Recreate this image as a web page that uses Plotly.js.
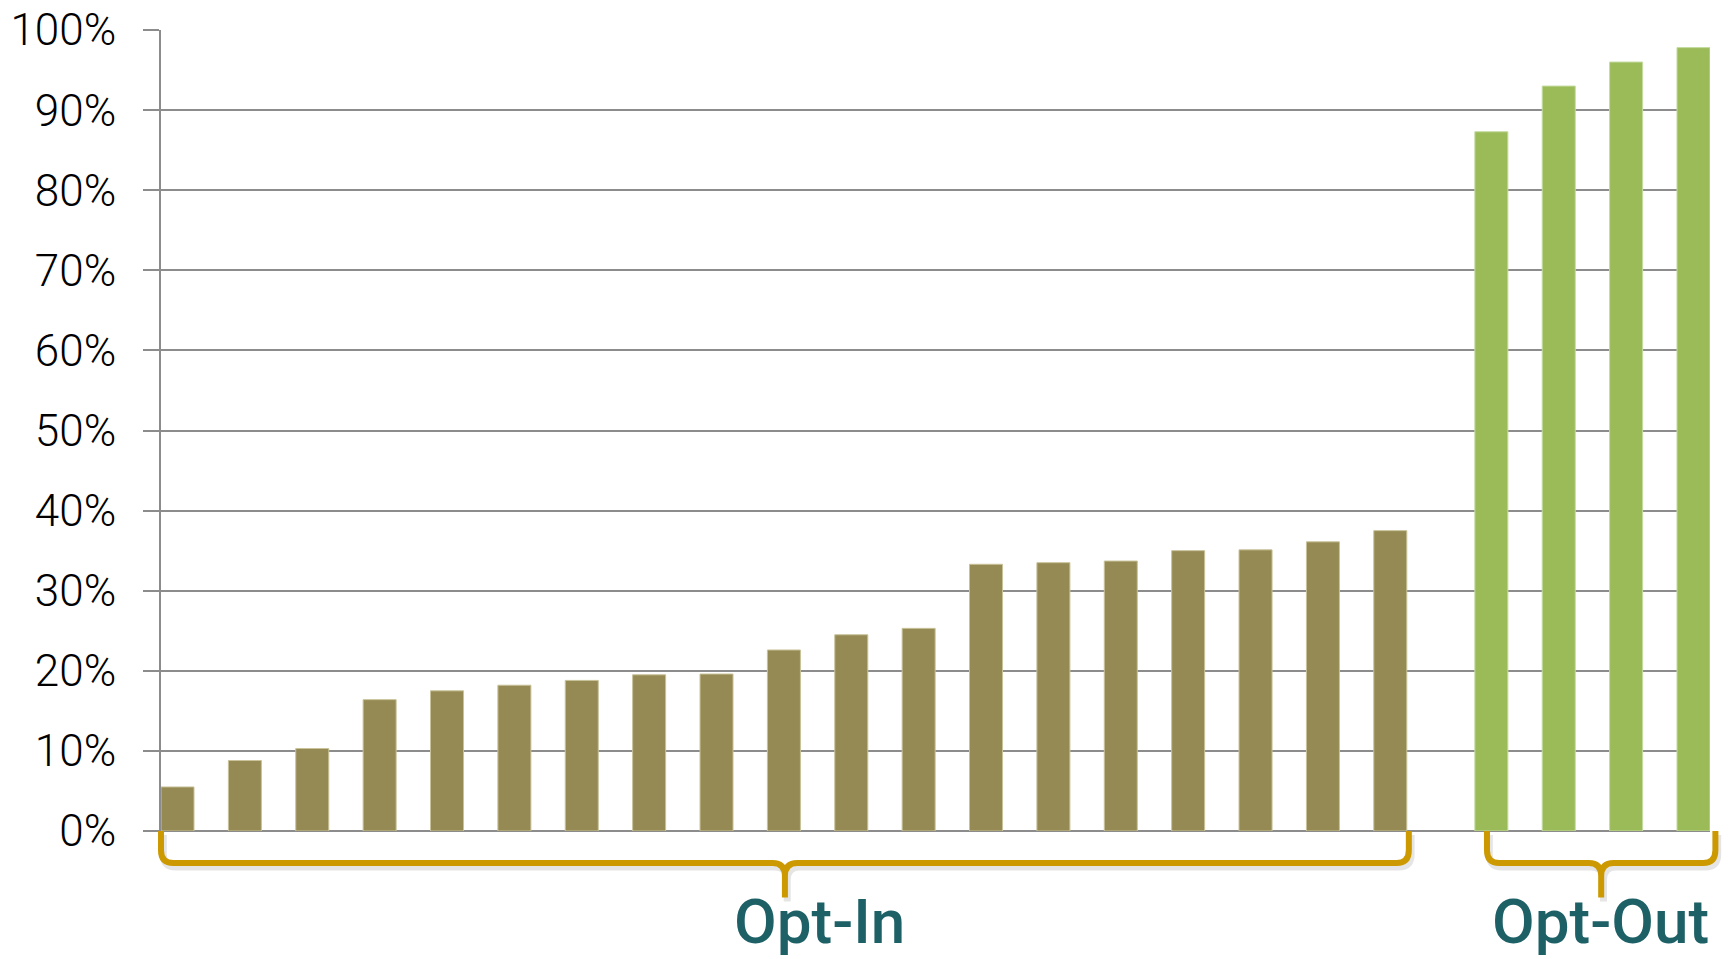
<!DOCTYPE html>
<html>
<head>
<meta charset="utf-8">
<script src="https://cdn.plot.ly/plotly-3.0.1.min.js"></script>
<style>
  html, body { margin: 0; padding: 0; background: #ffffff; }
  #chart { width: 1729px; height: 959px; }
</style>
</head>
<body>
<div id="chart"></div>
<script>
// Participation rates (%) by country group
const optInRates = [5.5, 8.8, 10.3, 16.4, 17.5, 18.2, 18.8, 19.5, 19.6, 22.6,
                    24.5, 25.3, 33.3, 33.5, 33.7, 35.0, 35.1, 36.1, 37.5];
const optOutRates = [87.3, 93.0, 96.0, 97.8];
const groupLabels = ['Opt-In', 'Opt-Out'];
const yTickValues = [0, 10, 20, 30, 40, 50, 60, 70, 80, 90, 100];
const yTickLabels = yTickValues.map(v => v + '%');

const OLIVE = '#958A53';
const GREEN = '#9BBB59';
const BRACE = '#CC9900';
const LABEL = '#1D6066';
const GRID = '#8C8C8C';

const barWidth = 0.49;
const groupGap = 0.5;

// Bar positions: one slot per bar, with a half-slot gap between the two groups
const optInX = optInRates.map((_, i) => i);
const optOutX = optOutRates.map((_, i) => optInRates.length + groupGap + i);

const xMin = optInX[0] - barWidth / 2;
const xMax = optOutX[optOutX.length - 1] + barWidth / 2;
// data x -> paper x, so the braces may reach past the plot edge without clipping
const toPaper = x => (x - xMin) / (xMax - xMin);

const traces = [
  { type: 'bar', x: optInX, y: optInRates, width: barWidth,
    marker: { color: OLIVE, line: { color: '#c9c29a', width: 1 } },
    hoverinfo: 'y', showlegend: false },
  { type: 'bar', x: optOutX, y: optOutRates, width: barWidth,
    marker: { color: GREEN, line: { color: '#c4dba0', width: 1 } },
    hoverinfo: 'y', showlegend: false }
];

// Curly brace under each group, spanning its bars (paper coordinates)
const yh = -0.040, yTip = -0.083, ry = 0.016, rx = 0.008;
function bracePath(x0, x1, dx, dy) {
  x0 += dx; x1 += dx;
  const a = yh + dy, t = yTip + dy;
  const xc = (x0 + x1) / 2;
  return `M ${x0},${dy} L ${x0},${a + ry} Q ${x0},${a} ${x0 + rx},${a} ` +
         `L ${xc - rx},${a} Q ${xc},${a} ${xc},${a - ry} L ${xc},${t} ` +
         `M ${xc},${a - ry} Q ${xc},${a} ${xc + rx},${a} ` +
         `L ${x1 - rx},${a} Q ${x1},${a} ${x1},${a + ry} L ${x1},${dy}`;
}
const groups = [optInX, optOutX];
const braceInset = [[0, 0.03], [0.18, 0.08]];
const labelShift = [36, 8];
const shapes = [];
const annotations = [];
groups.forEach((xs, g) => {
  const x0 = toPaper(xs[0] - barWidth / 2 + braceInset[g][0]);
  const x1 = toPaper(xs[xs.length - 1] + barWidth / 2 + braceInset[g][1]);
  // soft shadow
  shapes.push({ type: 'path', xref: 'paper', yref: 'paper', path: bracePath(x0, x1, 0.0015, -0.005),
    line: { color: 'rgba(0,0,0,0.10)', width: 7 }, layer: 'below' });
  shapes.push({ type: 'path', xref: 'paper', yref: 'paper', path: bracePath(x0, x1, 0, 0),
    line: { color: BRACE, width: 6 } });
  annotations.push({ x: (xs[0] + xs[xs.length - 1]) / 2, xref: 'x', y: -0.113, yref: 'paper',
    xshift: labelShift[g], text: groupLabels[g], showarrow: false,
    xanchor: 'center', yanchor: 'middle',
    font: { family: 'Roboto, sans-serif', size: 62, color: LABEL, weight: 500 } });
});

const layout = {
  width: 1729, height: 959,
  margin: { l: 161, r: 19, t: 30, b: 128 },
  paper_bgcolor: '#ffffff', plot_bgcolor: '#ffffff',
  bargap: 0,
  xaxis: { range: [xMin, xMax], showgrid: false, zeroline: false,
           showticklabels: false, ticks: '', showline: false, fixedrange: true },
  yaxis: { range: [0, 100], tickmode: 'array', tickvals: yTickValues, ticktext: yTickLabels,
           showgrid: true, gridcolor: GRID, gridwidth: 2,
           zeroline: true, zerolinecolor: GRID, zerolinewidth: 2,
           showline: true, linecolor: GRID, linewidth: 2,
           ticks: 'outside', ticklen: 16, tickwidth: 2, tickcolor: GRID,
           ticklabelstandoff: 18,
           tickfont: { family: 'Roboto, sans-serif', size: 44, color: '#000000', weight: 300 },
           fixedrange: true },
  shapes: shapes,
  annotations: annotations
};

Plotly.newPlot('chart', traces, layout, { displayModeBar: false, staticPlot: true });
</script>
</body>
</html>
